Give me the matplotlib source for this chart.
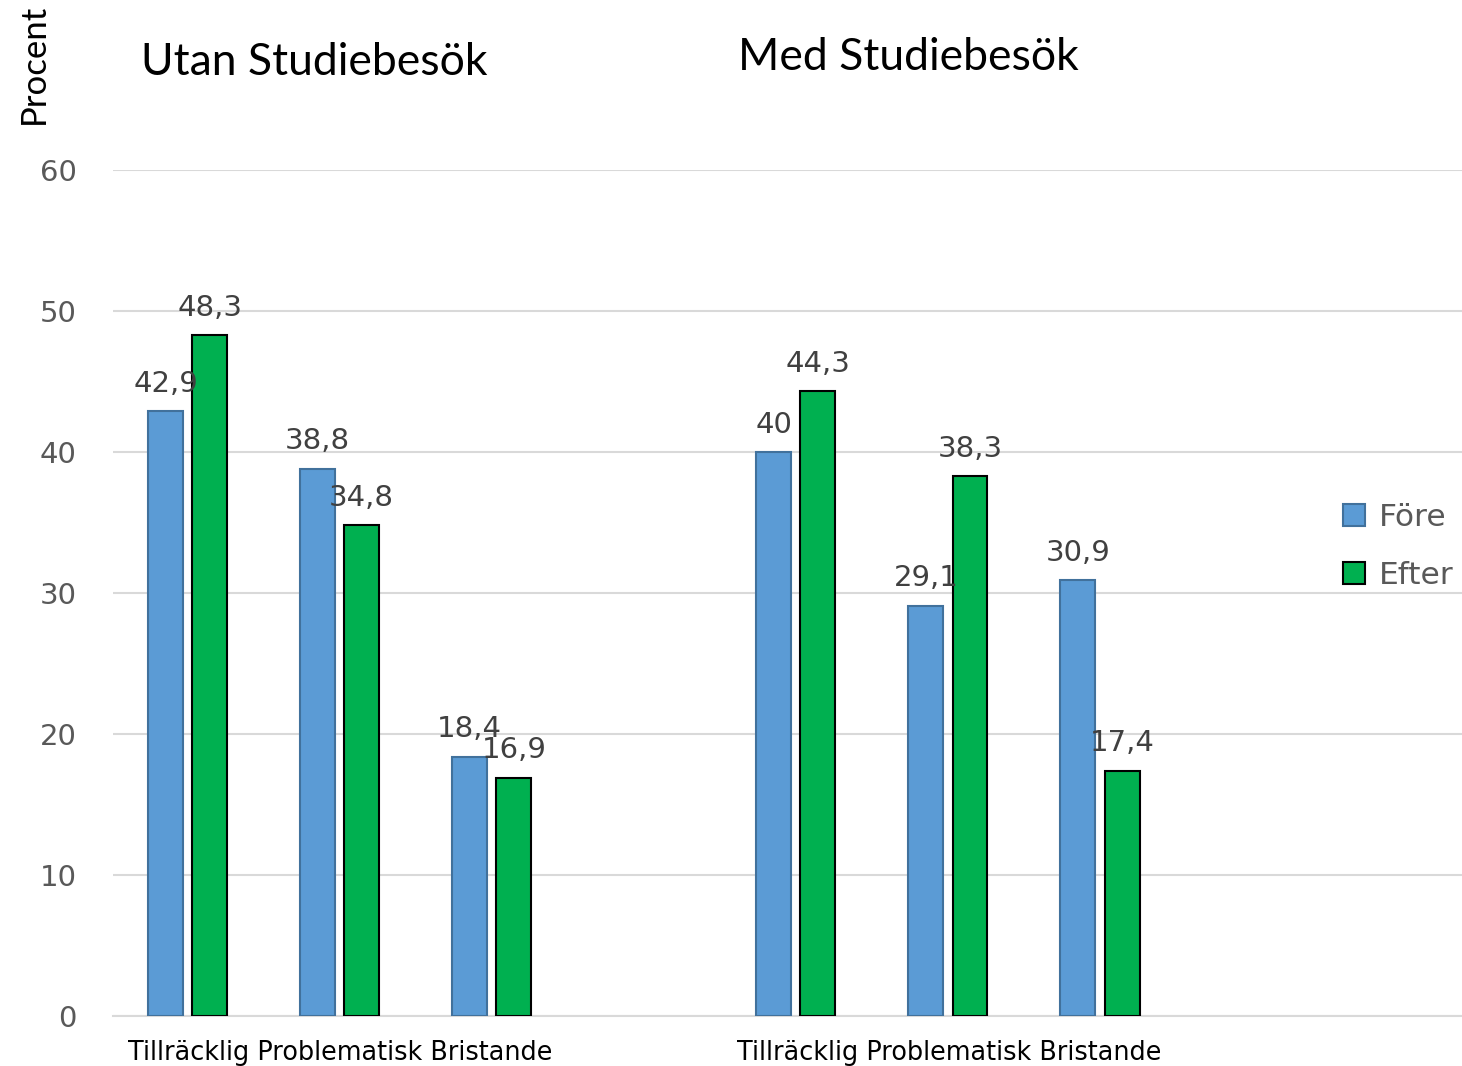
import matplotlib.pyplot as plt
import numpy as np

# data
groups = ["Utan Studiebesök", "Med Studiebesök"]
categories = ["Tillräcklig", "Problematisk", "Bristande"]
fore = [[42.9, 38.8, 18.4], [40.0, 29.1, 30.9]]
efter = [[48.3, 34.8, 16.9], [44.3, 38.3, 17.4]]
series_names = ["Före", "Efter"]
yticks = [0, 10, 20, 30, 40, 50, 60]

blue = "#5b9bd5"
green = "#00b050"
title_font = ["Lato", "DejaVu Sans"]

fig = plt.figure(figsize=(14.62, 10.66), dpi=100)
ax = fig.add_axes([0.0773, 0.0469, 0.9227, 0.7936])

w = 0.23
off = 0.145
group_start = [0, 4]
title_x = [0.83, 0.74]   # title centre relative to group start
title_y = [1.112, 1.118]

def fmt(v):
    s = ("%.1f" % v).replace(".", ",")
    return s[:-2] if s.endswith(",0") else s

for g in range(len(groups)):
    x = np.arange(len(categories)) + group_start[g]
    b1 = ax.bar(x - off, fore[g], w, color=blue, edgecolor="#41719c", linewidth=1.5,
                label=series_names[0] if g == 0 else None, zorder=3)
    b2 = ax.bar(x + off, efter[g], w, color=green, edgecolor="black", linewidth=1.5,
                label=series_names[1] if g == 0 else None, zorder=3)
    for bars, vals in [(b1, fore[g]), (b2, efter[g])]:
        for bar, v in zip(bars, vals):
            ax.annotate(fmt(v), (bar.get_x() + bar.get_width() / 2, v),
                        xytext=(0, 14), textcoords="offset points",
                        ha="center", va="baseline", fontsize=21, color="#404040", zorder=4)
    # category labels, written as one line under the group
    ax.text(group_start[g] - 0.39, -0.052, " ".join(categories), transform=ax.get_xaxis_transform(),
            ha="left", va="baseline", fontsize=18.4, color="black")
    # group titles
    ax.text(group_start[g] + title_x[g], title_y[g], groups[g], transform=ax.get_xaxis_transform(),
            ha="center", va="baseline", fontsize=32, family=title_font, color="black")

ax.set_ylim(0, 60)
ax.set_xlim(-0.49, 8.38)
ax.set_yticks(yticks)
ax.set_xticks([])
ax.tick_params(axis="y", length=0, pad=26, labelsize=21, labelcolor="#595959")
ax.grid(axis="y", color="#d9d9d9", linewidth=1.5, zorder=0)
for s in ["top", "right", "left"]:
    ax.spines[s].set_visible(False)
ax.spines["bottom"].set_color("#d9d9d9")
ax.spines["bottom"].set_linewidth(1.5)

fig.text(0.023, 0.94, "Procent", rotation=90, ha="center", va="center",
         fontsize=25, family=title_font, color="black")

ax.legend(loc="center", bbox_to_anchor=(0.953, 0.555), frameon=False, fontsize=22.5,
          labelcolor="#595959", handlelength=0.7, handleheight=0.7, handletextpad=0.45,
          labelspacing=0.95)

plt.savefig("out.png", dpi=100)
